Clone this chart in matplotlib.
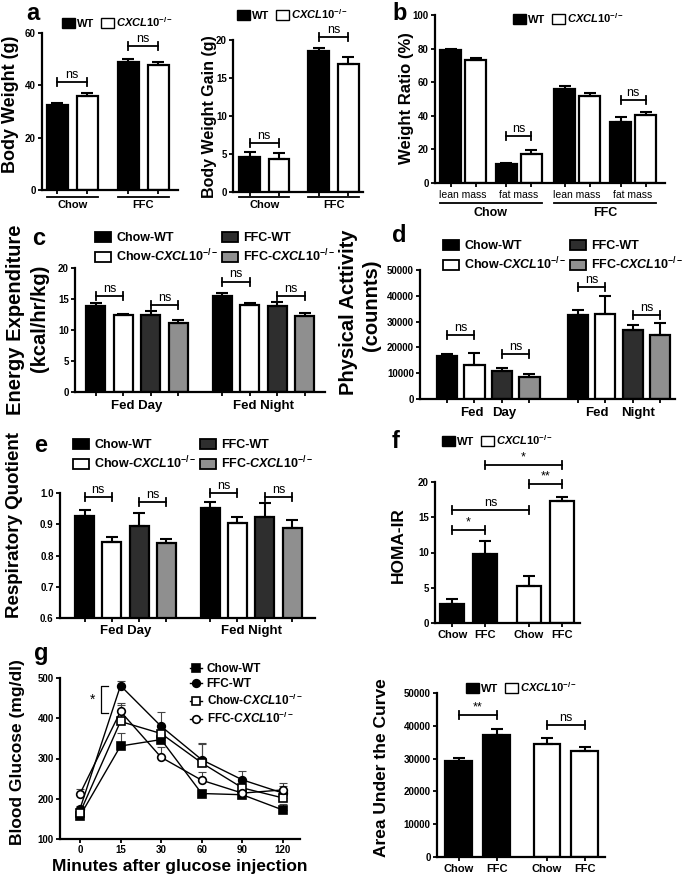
import numpy as np
import matplotlib
matplotlib.use("Agg")
import matplotlib.pyplot as plt
from matplotlib.patches import Patch
from matplotlib.lines import Line2D
from matplotlib.transforms import blended_transform_factory

plt.rcParams["font.family"] = ["Liberation Sans", "DejaVu Sans"]
plt.rcParams["font.weight"] = "bold"
plt.rcParams["mathtext.fontset"] = "custom"
plt.rcParams["mathtext.rm"] = "Liberation Sans:bold"
plt.rcParams["mathtext.it"] = "Liberation Sans:italic:bold"
plt.rcParams["mathtext.bf"] = "Liberation Sans:bold"

KO = r"$\mathit{CXCL10}^{-/-}$"
group_labels = ["Chow-WT", "Chow-" + KO, "FFC-WT", "FFC-" + KO]
group_colors = ["black", "white", "#2e2e2e", "#8f8f8f"]

# a: body weight and weight gain (Chow-WT, Chow-KO, FFC-WT, FFC-KO)
bw_mean = [32.3, 36.0, 49.0, 47.9]
bw_err = [0.8, 1.0, 1.0, 1.2]
gain_mean = [4.6, 4.4, 18.6, 16.8]
gain_err = [0.6, 0.7, 0.4, 1.0]

# b: body composition
ratio_labels = ["lean mass", "fat mass", "lean mass", "fat mass"]
ratio_wt = [79.0, 11.3, 56.0, 36.5]
ratio_wt_err = [0.5, 0.5, 2.0, 2.5]
ratio_ko = [73.0, 17.5, 52.0, 40.5]
ratio_ko_err = [1.5, 2.0, 1.5, 1.5]

# c: energy expenditure
ee_day = [13.9, 12.4, 12.5, 11.1]
ee_day_err = [0.4, 0.15, 0.5, 0.45]
ee_night = [15.5, 14.0, 13.8, 12.3]
ee_night_err = [0.4, 0.35, 0.7, 0.5]

# d: physical activity
pa_day = [16800, 13000, 10700, 8400]
pa_day_err = [800, 4700, 1500, 1200]
pa_night = [32400, 33000, 26700, 24700]
pa_night_err = [2200, 7000, 2000, 4700]

# e: respiratory quotient
rq_day = [0.926, 0.844, 0.895, 0.839]
rq_day_err = [0.02, 0.016, 0.04, 0.013]
rq_night = [0.951, 0.905, 0.924, 0.889]
rq_night_err = [0.021, 0.019, 0.045, 0.025]

# f: HOMA-IR (Chow-WT, FFC-WT, Chow-KO, FFC-KO)
homa_labels = ["Chow", "FFC", "Chow", "FFC"]
homa = [2.7, 9.8, 5.3, 17.3]
homa_err = [0.7, 1.8, 1.3, 0.6]
homa_colors = ["black", "black", "white", "white"]

# g: glucose tolerance test
gtt_minutes = ["0", "15", "30", "60", "90", "120"]
gtt_chow_wt = [157, 331, 347, 213, 210, 172]
gtt_chow_wt_err = [8, 32, 25, 8, 8, 14]
gtt_ffc_wt = [174, 481, 380, 297, 247, 214]
gtt_ffc_wt_err = [8, 12, 35, 40, 22, 18]
gtt_chow_ko = [165, 392, 362, 289, 227, 202]
gtt_chow_ko_err = [10, 40, 20, 50, 15, 12]
gtt_ffc_ko = [212, 417, 303, 246, 214, 222]
gtt_ffc_ko_err = [12, 22, 25, 20, 10, 18]

auc = [29300, 37200, 34300, 32300]
auc_err = [800, 1800, 2000, 1300]

W, H = 685, 876
fig = plt.figure(figsize=(W / 100, H / 100), dpi=100)


def add_ax(l, t, r, b):
    ax = fig.add_axes([l / W, 1 - b / H, (r - l) / W, (b - t) / H])
    ax.spines[["top", "right"]].set_visible(False)
    ax.spines[["left", "bottom"]].set_linewidth(1.6)
    ax.tick_params(axis="both", direction="out", length=3, width=1.3,
                   labelsize=7, pad=1.5)
    ax.hpx = b - t
    return ax


def draw_bars(ax, x, vals, errs, colors, width):
    ax.bar(x, vals, width, color=colors, edgecolor="black", linewidth=1.6, zorder=2)
    ax.errorbar(x, vals, yerr=[np.zeros(len(vals)), errs], fmt="none",
                ecolor="black", elinewidth=1.5, capsize=4, capthick=1.5, zorder=3)


def sig(ax, x1, x2, y, label, fs=9):
    y0, y1 = ax.get_ylim()
    d = 4 / ax.hpx * (y1 - y0)
    kw = dict(color="black", lw=1.3, clip_on=False, zorder=4)
    ax.plot([x1, x2], [y, y], **kw)
    ax.plot([x1, x1], [y - d, y + d], **kw)
    ax.plot([x2, x2], [y - d, y + d], **kw)
    ax.text((x1 + x2) / 2, y + d * 0.3, label, ha="center", va="bottom",
            fontsize=fs, fontweight="normal", clip_on=False)


def under(ax, x, dy_px, label, fs, line=None, line_dy=0):
    tr = blended_transform_factory(ax.transData, ax.transAxes)
    if line is not None:
        yl = -line_dy / ax.hpx
        ax.plot(line, [yl, yl], transform=tr, color="black", lw=1.3, clip_on=False)
    ax.text(x, -dy_px / ax.hpx, label, transform=tr, ha="center", va="center",
            fontsize=fs, fontweight="bold")


def wt_ko_legend(x, y, fs=8):
    handles = [Patch(facecolor="black", edgecolor="black", lw=1),
               Patch(facecolor="white", edgecolor="black", lw=1)]
    fig.legend(handles, ["WT", KO], loc="center left",
               bbox_to_anchor=(x / W, 1 - y / H), ncol=2, frameon=False,
               fontsize=fs, handlelength=1.15, handleheight=1.1,
               handletextpad=0.2, columnspacing=0.6, borderpad=0, borderaxespad=0)


def group_legend(x, y, fs=9):
    handles = [Patch(facecolor=c, edgecolor="black", lw=1.3) for c in group_colors]
    fig.legend(handles, group_labels, loc="upper left",
               bbox_to_anchor=(x / W, 1 - y / H), ncol=2, frameon=False,
               fontsize=fs, handlelength=1.25, handleheight=0.8,
               handletextpad=0.45, columnspacing=0.3, labelspacing=0.3,
               borderpad=0, borderaxespad=0)


def ylab(x, y, text, fs=12.5):
    fig.text(x / W, 1 - y / H, text, rotation=90, ha="center", va="center",
             fontsize=fs, fontweight="bold")


def letter(x, y, s):
    fig.text(x / W, 1 - y / H, s, fontsize=17, fontweight="bold", ha="left", va="baseline")


pos4 = np.array([0, 1, 2.35, 3.35])

# ---- a (left) ----
ax = add_ax(42, 33, 178, 190)
draw_bars(ax, pos4, bw_mean, bw_err, ["black", "white", "black", "white"], 0.7)
ax.set_xlim(-0.5, 4.0)
ax.set_ylim(0, 60)
ax.set_yticks([0, 20, 40, 60])
ax.set_xticks(pos4)
ax.set_xticklabels([])
sig(ax, pos4[0], pos4[1], 41.3, "ns")
sig(ax, pos4[2], pos4[3], 55, "ns")
under(ax, 0.5, 15, "Chow", 8, line=[-0.35, 1.35], line_dy=7)
under(ax, 2.85, 15, "FFC", 8, line=[2.0, 3.7], line_dy=7)

# ---- a (right) ----
ax = add_ax(233, 40, 363, 192)
draw_bars(ax, pos4, gain_mean, gain_err, ["black", "white", "black", "white"], 0.7)
ax.set_xlim(-0.56, 3.85)
ax.set_ylim(0, 20)
ax.set_yticks([0, 5, 10, 15, 20])
ax.set_xticks(pos4)
ax.set_xticklabels([])
sig(ax, pos4[0], pos4[1], 6.45, "ns")
sig(ax, pos4[2], pos4[3], 20.4, "ns")
under(ax, 0.5, 13, "Chow", 8, line=[-0.35, 1.35], line_dy=5)
under(ax, 2.85, 13, "FFC", 8, line=[2.0, 3.7], line_dy=5)

# ---- b ----
ax = add_ax(435, 15, 665, 183)
pair = np.array([0, 2.22, 4.56, 6.8])
draw_bars(ax, pair - 0.5, ratio_wt, ratio_wt_err, "black", 0.84)
draw_bars(ax, pair + 0.5, ratio_ko, ratio_ko_err, "white", 0.84)
ax.set_xlim(-1.12, 8.08)
ax.set_ylim(0, 100)
ax.set_yticks(np.arange(0, 101, 20))
ax.set_xticks(np.sort(np.concatenate([pair - 0.5, pair + 0.5])))
ax.set_xticklabels([])
for xc, lab in zip(pair, ratio_labels):
    ax.text(xc, -12 / ax.hpx, lab, transform=blended_transform_factory(ax.transData, ax.transAxes),
            ha="center", va="center", fontsize=7.5, fontweight="normal")
sig(ax, pair[1] - 0.5, pair[1] + 0.5, 28, "ns")
sig(ax, pair[3] - 0.5, pair[3] + 0.5, 49.4, "ns")
under(ax, (pair[0] + pair[1]) / 2, 30, "Chow", 9, line=[pair[0] - 0.92, pair[1] + 0.92], line_dy=20)
under(ax, (pair[2] + pair[3]) / 2, 30, "FFC", 9, line=[pair[2] - 0.92, pair[3] + 0.92], line_dy=20)

# ---- c ----
pos8 = np.concatenate([np.arange(4), np.arange(4) + 4.6])
ax = add_ax(75, 268, 325, 392)
draw_bars(ax, pos8, ee_day + ee_night, ee_day_err + ee_night_err, group_colors * 2, 0.69)
ax.set_xlim(-0.76, 8.33)
ax.set_ylim(0, 20)
ax.set_yticks([0, 5, 10, 15, 20])
ax.set_xticks(pos8)
ax.set_xticklabels([])
sig(ax, pos8[0], pos8[1], 15.5, "ns")
sig(ax, pos8[2], pos8[3], 14.0, "ns")
sig(ax, pos8[4], pos8[5], 17.8, "ns")
sig(ax, pos8[6], pos8[7], 15.5, "ns")
under(ax, pos8[:4].mean(), 14, "Fed Day", 9.5)
under(ax, pos8[4:].mean(), 14, "Fed Night", 9.5)

# ---- d ----
pos8d = np.concatenate([np.arange(4), np.arange(4) + 4.75])
ax = add_ax(420, 270, 675, 399)
draw_bars(ax, pos8d, pa_day + pa_night, pa_day_err + pa_night_err, group_colors * 2, 0.73)
ax.set_xlim(-0.98, 8.29)
ax.set_ylim(0, 50000)
ax.set_yticks(np.arange(0, 50001, 10000))
ax.set_xticks(pos8d)
ax.set_xticklabels([])
sig(ax, pos8d[0], pos8d[1], 24800, "ns")
sig(ax, pos8d[2], pos8d[3], 17400, "ns")
sig(ax, pos8d[4], pos8d[5], 43500, "ns")
sig(ax, pos8d[6], pos8d[7], 32500, "ns")
under(ax, 0.9, 14, "Fed", 9.5)
under(ax, 2.1, 14, "Day", 9.5)
under(ax, 5.45, 14, "Fed", 9.5)
under(ax, 6.95, 14, "Night", 9.5)

# ---- e ----
pos8e = np.concatenate([np.arange(4), np.arange(4) + 4.6])
ax = add_ax(60, 493, 315, 618)
draw_bars(ax, pos8e, rq_day + rq_night, rq_day_err + rq_night_err, group_colors * 2, 0.7)
ax.set_xlim(-0.9, 8.44)
ax.set_ylim(0.6, 1.0)
ax.set_yticks([0.6, 0.7, 0.8, 0.9, 1.0])
ax.set_yticklabels(["0.6", "0.7", "0.8", "0.9", "1.0"])
ax.set_xticks(pos8e)
ax.set_xticklabels([])
sig(ax, pos8e[0], pos8e[1], 0.986, "ns")
sig(ax, pos8e[2], pos8e[3], 0.970, "ns")
sig(ax, pos8e[4], pos8e[5], 0.999, "ns")
sig(ax, pos8e[6], pos8e[7], 0.988, "ns")
under(ax, pos8e[:4].mean(), 13, "Fed Day", 9.5)
under(ax, pos8e[4:].mean(), 13, "Fed Night", 9.5)

# ---- f ----
posf = np.array([0, 1, 2.33, 3.33])
ax = add_ax(435, 482, 580, 623)
draw_bars(ax, posf, homa, homa_err, homa_colors, 0.73)
ax.set_xlim(-0.52, 3.88)
ax.set_ylim(0, 20)
ax.set_yticks([0, 5, 10, 15, 20])
ax.set_xticks(posf)
ax.set_xticklabels(homa_labels, fontsize=8)
ax.tick_params(axis="x", pad=2)
sig(ax, posf[0], posf[1], 13.2, "*")
sig(ax, posf[0], posf[2], 16.0, "ns")
sig(ax, posf[2], posf[3], 19.7, "**")
sig(ax, posf[1], posf[3], 22.4, "*")

# ---- g (left) ----
ax = add_ax(60, 678, 300, 839)
xg = np.arange(len(gtt_minutes))
series = [
    (gtt_chow_wt, gtt_chow_wt_err, "s", "black", "Chow-WT"),
    (gtt_ffc_wt, gtt_ffc_wt_err, "o", "black", "FFC-WT"),
    (gtt_chow_ko, gtt_chow_ko_err, "s", "white", "Chow-" + KO),
    (gtt_ffc_ko, gtt_ffc_ko_err, "o", "white", "FFC-" + KO),
]
handles = []
for vals, errs, mk, fc, lab in series:
    ax.errorbar(xg, vals, yerr=[np.zeros(len(vals)), errs], fmt="none",
                ecolor="#444444", elinewidth=0.8, capsize=3, capthick=0.8, zorder=2)
    ax.plot(xg, vals, color="black", lw=1.0, marker=mk, markersize=5.5,
            markerfacecolor=fc, markeredgecolor="black", markeredgewidth=1.2, zorder=3)
    handles.append(Line2D([], [], color="black", lw=1.0, marker=mk, markersize=5.5,
                          markerfacecolor=fc, markeredgecolor="black", markeredgewidth=1.2))
ax.set_xlim(-0.49, 5.42)
ax.set_ylim(100, 500)
ax.set_yticks(np.arange(100, 501, 100))
ax.set_xticks(xg)
ax.set_xticklabels(gtt_minutes, fontsize=7)
ax.set_xlabel("Minutes after glucose injection", fontsize=12.5, fontweight="bold", labelpad=3)
ax.plot([0.69, 0.52, 0.52, 0.69], [481, 481, 413, 413], color="black", lw=0.9, zorder=4)
ax.text(0.37, 447, "*", ha="right", va="center", fontsize=10, fontweight="normal")
ax.legend(handles, [s[4] for s in series], loc="upper left",
          bbox_to_anchor=((190 - 60) / 240, 1 + 15 / 161), frameon=False,
          fontsize=8.5, handlelength=1.0, handletextpad=0.4, labelspacing=0.25,
          borderpad=0, borderaxespad=0)

# ---- g (right) ----
ax = add_ax(437, 693, 605, 857)
draw_bars(ax, posf, auc, auc_err, homa_colors, 0.71)
ax.set_xlim(-0.57, 3.86)
ax.set_ylim(0, 50000)
ax.set_yticks(np.arange(0, 50001, 10000))
ax.set_xticks(posf)
ax.set_xticklabels(homa_labels, fontsize=8)
ax.tick_params(axis="x", pad=2)
sig(ax, posf[0], posf[1], 43300, "**")
sig(ax, posf[2], posf[3], 40200, "ns")

# ---- legends ----
wt_ko_legend(62, 22)
wt_ko_legend(237, 14)
wt_ko_legend(513, 18)
wt_ko_legend(442, 440)
wt_ko_legend(466, 687)
group_legend(95, 232)
group_legend(443, 240)
group_legend(73, 439)

# ---- axis titles ----
ylab(11, 104, "Body Weight (g)", 13)
ylab(209, 117, "Body Weight Gain (g)", 11.5)
ylab(407, 98, "Weight Ratio (%)", 12)
ylab(16, 320, "Energy Expenditure", 14.5)
ylab(39, 318, "(kcal/hr/kg)", 14.5)
ylab(349, 312, "Physical Acttivity", 14.5)
ylab(371, 305, "(counnts)", 14.5)
ylab(15, 525, "Respiratory Quotient", 13.5)
ylab(398, 545, "HOMA-IR", 12.5)
ylab(18, 752, "Blood Glucose (mg/dl)", 12.5)
ylab(382, 768, "Area Under the Curve", 12.5)

# ---- panel letters ----
letter(26, 20, "a")
letter(392, 20, "b")
letter(32, 245, "c")
letter(392, 242, "d")
letter(34, 452, "e")
letter(392, 448, "f")
letter(34, 660, "g")

fig.savefig("out.png", dpi=100)
